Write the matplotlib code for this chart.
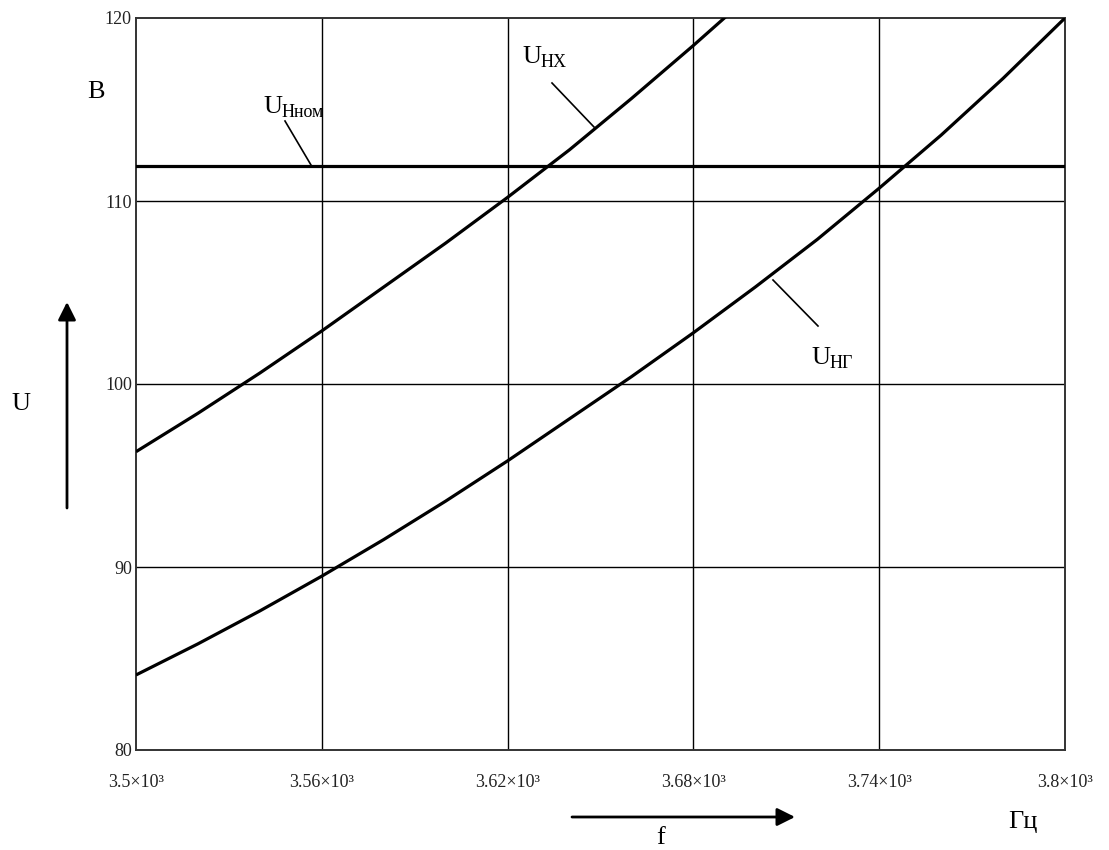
import matplotlib
matplotlib.use("Agg")
import matplotlib.pyplot as plt
from matplotlib.lines import Line2D
from matplotlib.ticker import FixedLocator, FixedFormatter

# Frequency grid, Hz
freq = [3500, 3520, 3540, 3560, 3580, 3600, 3620, 3640, 3660, 3680, 3700,
        3720, 3740, 3760, 3780, 3800]

# No-load output voltage U_НХ, V
u_nx = [96.3, 98.4, 100.6, 102.9, 105.3, 107.7, 110.2, 112.8, 115.6, 118.5,
        121.5, None, None, None, None, None]

# Hot-state output voltage U_НГ, V
u_ng = [84.1, 85.8, 87.6, 89.5, 91.5, 93.6, 95.8, 98.1, 100.4, 102.8, 105.3,
        107.9, 110.7, 113.6, 116.7, 120.0]

# Rated voltage U_Нном, V
u_nom = 111.9

x_ticks = [3500, 3560, 3620, 3680, 3740, 3800]
x_tick_labels = ["3.5×10³", "3.56×10³", "3.62×10³", "3.68×10³", "3.74×10³", "3.8×10³"]
y_ticks = [80, 90, 100, 110, 120]
y_tick_labels = ["80", "90", "100", "110", "120"]

W, H = 1109, 850
SERIF = ["Liberation Serif", "DejaVu Serif"]
plt.rcParams["font.family"] = SERIF

fig = plt.figure(figsize=(W / 100, H / 100), dpi=100)
ax = fig.add_axes([136 / W, 1 - 750 / H, (1065 - 136) / W, (750 - 18) / H])

ax.set_xlim(3500, 3800)
ax.set_ylim(80, 120)

# grid
for xv in x_ticks[1:-1]:
    ax.axvline(xv, color="black", lw=1.0, zorder=1)
for yv in y_ticks[1:-1]:
    ax.axhline(yv, color="black", lw=1.0, zorder=1)

# curves
nx_f = [f for f, v in zip(freq, u_nx) if v is not None]
nx_v = [v for v in u_nx if v is not None]
ax.plot(nx_f, nx_v, color="black", lw=2.3, zorder=3, solid_capstyle="butt")
ax.plot(freq, u_ng, color="black", lw=2.3, zorder=3, solid_capstyle="butt")
ax.axhline(u_nom, color="black", lw=2.3, zorder=3)

for sp in ax.spines.values():
    sp.set_linewidth(1.4)
    sp.set_color("#333333")

ax.xaxis.set_major_locator(FixedLocator(x_ticks))
ax.xaxis.set_major_formatter(FixedFormatter(x_tick_labels))
ax.yaxis.set_major_locator(FixedLocator(y_ticks))
ax.yaxis.set_major_formatter(FixedFormatter(y_tick_labels))
ax.tick_params(axis="x", length=0, pad=17, labelsize=13, labelcolor="#222222")
ax.tick_params(axis="y", length=0, pad=3, labelsize=13, labelcolor="#222222")


def fp(x, y):
    """Pixel position (from top-left) to figure fraction."""
    return x / W, 1 - y / H


def label(x, y, main, sub):
    fig.text(*fp(x, y), main, fontsize=19, ha="left", va="baseline")
    fig.text(*fp(x + 18.5, y + 4), sub, fontsize=13, ha="left", va="baseline")


def leader(x0, y0, x1, y1):
    (a, b), (c, d) = fp(x0, y0), fp(x1, y1)
    fig.add_artist(Line2D([a, c], [b, d], transform=fig.transFigure,
                          color="black", lw=1.2))


# curve labels
label(263, 113, "U", "Нном")
leader(285, 121, 311, 165)
label(522, 63, "U", "НХ")
leader(552, 83, 594, 127)
label(811, 364, "U", "НГ")
leader(818, 326, 773, 280)

# axis quantities and units
fig.text(*fp(96, 92), "В", fontsize=19, ha="center", va="center")
fig.text(*fp(21, 404), "U", fontsize=19, ha="center", va="center")
fig.text(*fp(661, 838), "f", fontsize=19, ha="center", va="center")
fig.text(*fp(1023, 822), "Гц", fontsize=19, ha="center", va="center")

arrow_props = dict(arrowstyle="-|>,head_length=0.6,head_width=0.3", lw=2,
                   color="black", mutation_scale=18, shrinkA=0, shrinkB=0)
ax.annotate("", xy=(67, H - 302), xytext=(67, H - 508),
            xycoords="figure pixels", textcoords="figure pixels",
            arrowprops=arrow_props, annotation_clip=False)
ax.annotate("", xy=(795, H - 817), xytext=(572, H - 817),
            xycoords="figure pixels", textcoords="figure pixels",
            arrowprops=arrow_props, annotation_clip=False)

fig.savefig("out.png", dpi=100, facecolor="white")
